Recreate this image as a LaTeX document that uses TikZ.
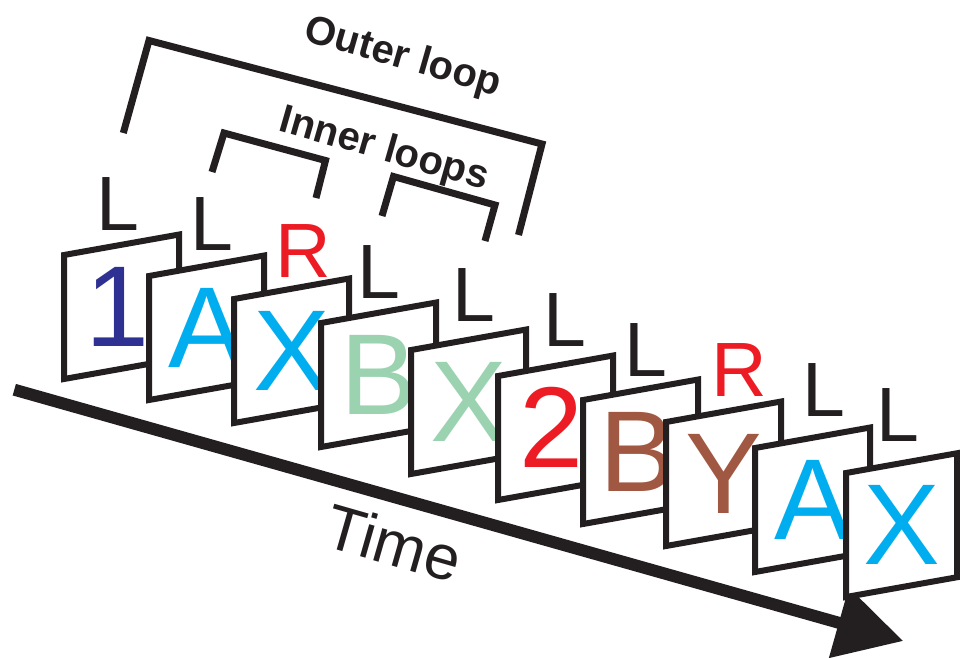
\documentclass[tikz,border=0pt]{standalone}
\usepackage{fontspec}
\setmainfont{Liberation Sans}
\usetikzlibrary{arrows.meta}
\definecolor{ink}{HTML}{231F20}
\definecolor{navy}{HTML}{2E3192}
\definecolor{cyanL}{HTML}{00AEEF}
\definecolor{mint}{HTML}{9BD3B0}
\definecolor{redL}{HTML}{ED1C24}
\definecolor{brownL}{HTML}{A15842}
\tikzset{
  cardframe/.style={draw=ink, fill=white, line width=6pt, line join=miter},
  bigletter/.style={inner sep=0pt, font=\fontsize{115}{115}\selectfont},
  sidelabel/.style={inner sep=0pt, text=ink, font=\fontsize{77}{77}\selectfont},
  bracketline/.style={draw=ink, line width=7pt, line join=miter, line cap=butt},
  looptext/.style={inner sep=0pt, text=ink, rotate=-16, font=\fontsize{40}{40}\selectfont\bfseries},
  timetext/.style={inner sep=0pt, text=ink, rotate=-16, font=\fontsize{63}{63}\selectfont},
  timearrow/.style={draw=ink, line width=12pt, line cap=butt, -{Triangle[length=67pt,width=70pt]}}
}
\newcommand\mycard[7]{%
  \draw[cardframe] (#2,#3) -- ++(#4,{-0.178*#4}) -- ++(0,124) -- ++({-#4},{0.178*#4}) -- cycle;
  \node[bigletter,text=#5,xshift=#7] (#1) at ({#2+#4/2},{#3-0.089*#4+62}) {#6};
}
\begin{document}
\begin{tikzpicture}[x=1pt,y=-1pt]
\useasboundingbox (0,0) rectangle (960,657);
% time arrow
\coordinate (tstart) at (14.3,389.7);
\coordinate (ttip) at (903.3,641);
\draw[timearrow] (tstart) -- (ttip);
% cards
\mycard{c1}{64}{255}{115}{navy}{1}{-4pt}
\mycard{c2}{149}{276}{115}{cyanL}{A}{0pt}
\mycard{c3}{234}{299}{115}{cyanL}{X}{0pt}
\mycard{c4}{321}{323}{115}{mint}{B}{0pt}
\mycard{c5}{411}{350}{115}{mint}{X}{0pt}
\mycard{c6}{498}{376}{115}{redL}{2}{-4pt}
\mycard{c7}{583}{400}{115}{brownL}{B}{-3pt}
\mycard{c8}{666}{422}{115}{brownL}{Y}{0pt}
\mycard{c9}{755}{448}{115}{cyanL}{A}{0pt}
\mycard{c10}{846}{473}{111}{cyanL}{X}{0pt}
% response labels
\node[sidelabel] (l1) at (117.5,204.5) {L};
\node[sidelabel] (l2) at (211.5,224) {L};
\node[sidelabel,text=redL] (r3) at (303.5,251) {R};
\node[sidelabel] (l4) at (378.5,272.5) {L};
\node[sidelabel] (l5) at (474,295.5) {L};
\node[sidelabel] (l6) at (564.5,320.5) {L};
\node[sidelabel] (l7) at (645.5,350) {L};
\node[sidelabel,text=redL] (r8) at (739.7,370) {R};
\node[sidelabel] (l9) at (824,390.5) {L};
\node[sidelabel] (l10) at (898,414.7) {L};
% brackets
\coordinate (o1) at (123.3,133);
\coordinate (o2) at (149,40.5);
\coordinate (o3) at (542,144);
\coordinate (o4) at (518.5,235);
\draw[bracketline] (o1) -- (o2) -- (o3) -- (o4);
\coordinate (i1) at (212,172);
\coordinate (i2) at (224,133);
\coordinate (i3) at (325.5,160.5);
\coordinate (i4) at (316,198);
\draw[bracketline] (i1) -- (i2) -- (i3) -- (i4);
\coordinate (j1) at (382,216);
\coordinate (j2) at (393.5,176.5);
\coordinate (j3) at (495,205);
\coordinate (j4) at (485,241);
\draw[bracketline] (j1) -- (j2) -- (j3) -- (j4);
% texts
\node[looptext] (outer) at (403,58) {Outer loop};
\node[looptext] (inner) at (384,150) {Inner loops};
\node[timetext] (time) at (394,543) {Time};
\end{tikzpicture}
\end{document}
